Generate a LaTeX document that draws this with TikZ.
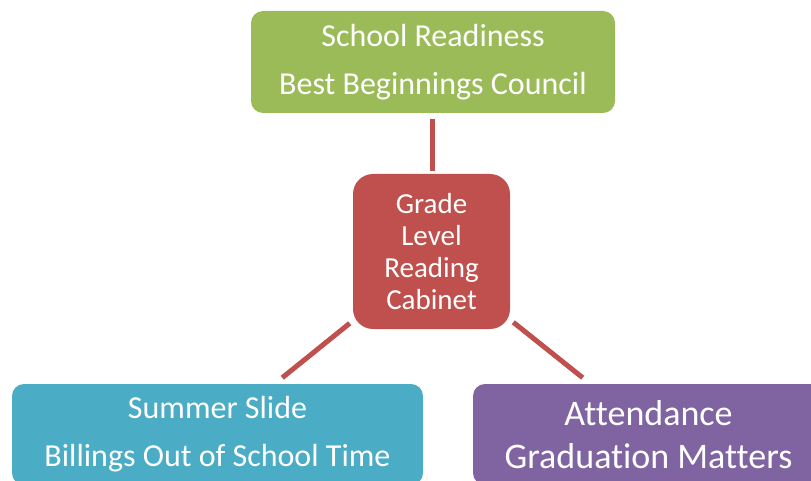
\documentclass[tikz,border=0pt]{standalone}
\usepackage{fontspec}
\setmainfont[Ligatures=NoCommon]{Carlito}
\usetikzlibrary{calc}
\definecolor{boxgreen}{HTML}{9BBB59}
\definecolor{boxred}{HTML}{C0504D}
\definecolor{boxteal}{HTML}{4BACC6}
\definecolor{boxpurple}{HTML}{8064A2}
\begin{document}
\begin{tikzpicture}[x=0.75pt,y=0.75pt,yscale=-1,xscale=1,
  box/.style={fill=#1,text=white,align=center,inner sep=0pt,rounded corners=9pt},
  link/.style={draw=boxred,line width=3.75pt}]
\clip (0,0) rectangle (811,481);

% Text Node
\node (green) [box=boxgreen,minimum width=273pt,minimum height=76.5pt,font=\fontsize{24}{36}\selectfont] at (433,62) {School Readiness\\Best Beginnings Council};
% Text Node
\node (red) [box=boxred,rounded corners=15pt,minimum width=117.75pt,minimum height=116.25pt,font=\fontsize{21.75}{24}\selectfont] at (431.5,251.5) {Grade\\Level\\Reading\\Cabinet};
% Text Node
\node (teal) [box=boxteal,minimum width=308.25pt,minimum height=75.75pt,font=\fontsize{24}{36}\selectfont] at (217.5,434.5) {Summer Slide\\Billings Out of School Time};
% Text Node
\node (purple) [box=boxpurple,minimum width=263.25pt,minimum height=75.75pt,font=\fontsize{27}{32.25}\selectfont] at (648.5,434.5) {Attendance\\Graduation Matters};

% Links
\draw [link,shorten <=4.5pt,shorten >=2.25pt] ($(green.south)+(-0.5,0)$) -- ($(green.south |- red.north)+(-0.5,0)$);
\draw [link] ($(red.south west)+(-3,-6)$) -- ($(teal.north east)+(-141,-6)$);
\draw [link] ($(red.south east)+(3,-7)$) -- ($(purple.north west)+(110,-6)$);

\end{tikzpicture}
\end{document}
